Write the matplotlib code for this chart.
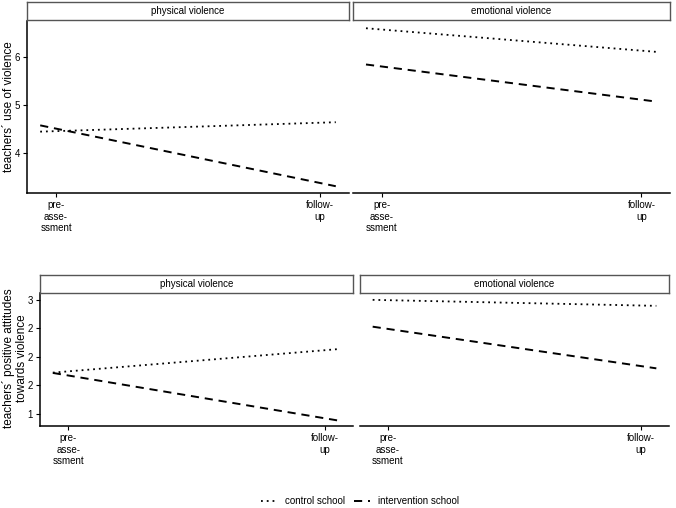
import matplotlib
matplotlib.use("Agg")
import matplotlib.pyplot as plt
from matplotlib.lines import Line2D

plt.rcParams['font.family'] = ['Liberation Sans', 'DejaVu Sans']

# ---- data ----
time_span = [-0.06, 1.06]          # fitted line span (pre-assessment = 0, follow-up = 1)
tick_pos = [0, 1]
tick_labels = ["pre-\nasse-\nssment", "follow-\nup"]
panels = ["physical violence", "emotional violence"]
groups = ["control school", "intervention school"]

use_physical_control = [4.45, 4.645]
use_physical_intervention = [4.58, 3.32]
use_emotional_control = [6.59, 6.10]
use_emotional_intervention = [5.84, 5.07]

att_physical_control = [1.725, 2.14]
att_physical_intervention = [1.72, 0.88]
att_emotional_control = [3.00, 2.895]
att_emotional_intervention = [2.53, 1.80]

use_yticks = [4, 5, 6]
use_yticklabels = ["4", "5", "6"]
att_yticks = [1, 1.5, 2, 2.5, 3]
att_yticklabels = ["1", "2", "2", "2", "3"]

W, H = 676, 508
fig = plt.figure(figsize=(W / 100, H / 100), dpi=100)

def px_axes(x0, y0, x1, y1):
    return fig.add_axes([x0 / W, 1 - y1 / H, (x1 - x0) / W, (y1 - y0) / H])

styles = {
    "control school": dict(color="black", lw=1.3, linestyle=(0, (1.0, 2.2)), dash_capstyle="butt"),
    "intervention school": dict(color="black", lw=1.4, linestyle=(0, (4.2, 3.0)), dash_capstyle="butt"),
}

def make_panel(box, strip_box, title, series, ylim, yticks, yticklabels, left):
    ax = px_axes(*box)
    for g, vals in zip(groups, series):
        ax.plot(time_span, vals, **styles[g])
    ax.set_xlim(-0.11, 1.11)
    ax.set_ylim(*ylim)
    ax.set_xticks(tick_pos)
    ax.set_xticklabels(tick_labels, fontsize=7, linespacing=1.2)
    for s in ["top", "right"]:
        ax.spines[s].set_visible(False)
    ax.spines["bottom"].set_linewidth(1.1)
    ax.spines["left"].set_linewidth(1.1)
    ax.tick_params(axis="both", length=3, width=0.8, pad=2, labelsize=7, colors="black")
    if left:
        ax.set_yticks(yticks)
        ax.set_yticklabels(yticklabels)
    else:
        ax.spines["left"].set_visible(False)
        ax.set_yticks([])
    sax = px_axes(*strip_box)
    sax.set_xticks([]); sax.set_yticks([])
    for s in sax.spines.values():
        s.set_edgecolor("#555555"); s.set_linewidth(1.0)
    sax.text(0.5, 0.5, title, ha="center", va="center", fontsize=7, transform=sax.transAxes)
    return ax

# top row: teachers' use of violence
ylim_top = (3.18, 6.74)
ax1 = make_panel((27, 21, 349, 193), (27, 2, 349, 20), panels[0],
                 [use_physical_control, use_physical_intervention],
                 ylim_top, use_yticks, use_yticklabels, True)
ax2 = make_panel((353, 21, 670, 193), (353, 2, 670, 20), panels[1],
                 [use_emotional_control, use_emotional_intervention],
                 ylim_top, use_yticks, use_yticklabels, False)
fig.text(9 / W, 1 - 107 / H, "teachers´ use of violence", rotation=90,
         ha="center", va="center", fontsize=8.5)

# bottom row: teachers' positive attitudes towards violence
ylim_bot = (0.79, 3.12)
ax3 = make_panel((40, 293, 353, 426), (40, 275, 353, 293), panels[0],
                 [att_physical_control, att_physical_intervention],
                 ylim_bot, att_yticks, att_yticklabels, True)
ax4 = make_panel((360, 293, 669, 426), (360, 275, 669, 293), panels[1],
                 [att_emotional_control, att_emotional_intervention],
                 ylim_bot, att_yticks, att_yticklabels, False)
fig.text(15 / W, 1 - 358 / H, "teachers´ positive attitudes\ntowards violence", rotation=90,
         ha="center", va="center", fontsize=8.5, linespacing=1.15)

handles = [Line2D([0], [0], **styles[g]) for g in groups]
fig.legend(handles, groups, loc="center", bbox_to_anchor=(360 / W, 1 - 501 / H),
           ncol=2, frameon=False, fontsize=7, handlelength=1.6, handletextpad=0.8,
           columnspacing=1.0)

fig.savefig("out.png", dpi=100)
